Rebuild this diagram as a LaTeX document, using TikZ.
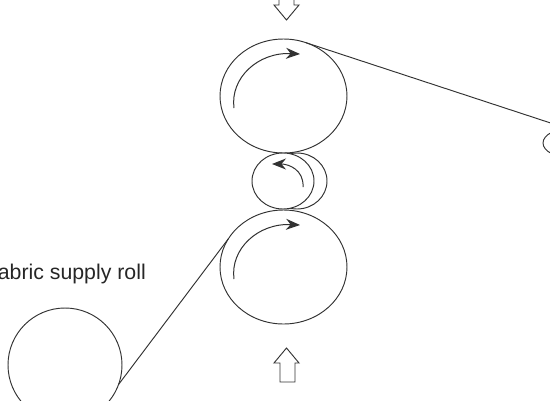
\documentclass[tikz,border=0pt]{standalone}
\usepackage{fontspec}
\setmainfont{Liberation Sans}
\usetikzlibrary{arrows.meta,shapes.geometric}
\definecolor{inkgrey}{RGB}{50,50,50}
\tikzset{
  roll/.style={ellipse,draw=inkgrey,line width=0.95pt,fill=white,inner sep=0pt,outer sep=0pt},
  web/.style={draw=inkgrey,line width=0.95pt},
  spin/.style={draw=inkgrey,line width=1pt,-{Stealth[length=14pt,width=11pt]}},
  press/.style={draw=inkgrey,line width=0.95pt,line join=miter},
  caption/.style={font=\fontsize{21.3}{24}\selectfont,text=black!85,anchor=base east,inner sep=0pt}
}
\begin{document}
\begin{tikzpicture}[x=1pt,y=-1pt]
  \path[use as bounding box,clip] (0,0) rectangle (550,400);

  % Rolls of the nip, lower one sits behind the small roller.
  \node[roll,minimum width=127pt,minimum height=114pt] (toproll) at (283.5,96) {};
  \node[roll,minimum width=127pt,minimum height=114pt] (botroll) at (283.5,267) {};
  \node[roll,minimum width=60pt,minimum height=56pt] (backroll) at (297,181) {};
  \node[roll,minimum width=62pt,minimum height=56pt] (niproll) at (283,181) {};
  \node[roll,minimum width=114pt,minimum height=114pt] (supplyroll) at (65,365) {};
  \node[roll,minimum width=58pt,minimum height=30pt] (takeroll) at (572,143) {};

  \draw[web] (supplyroll.-20) -- (botroll.153);
  \draw[web] (toproll.67) -- (takeroll.110);

  \coordinate (topstart) at (234,108);
  \coordinate (topend) at (300,54);
  \coordinate (botstart) at (234,279);
  \coordinate (botend) at (300,225);
  \coordinate (nipstart) at (303,187);
  \coordinate (nipend) at (272,164);
  \draw[spin] (topstart) .. controls (230,78) and (258,52) .. (topend);
  \draw[spin] (botstart) .. controls (230,249) and (258,223) .. (botend);
  \draw[spin] (nipstart) .. controls (304,170) and (289,164) .. (nipend);

  % Pressure arrows
  \draw[press] (279,-5) -- (279,5) -- (274,5) -- (286.5,20) -- (299,5) -- (294,5) -- (294,-5);
  \draw[press] (280,382) -- (280,363) -- (274,363) -- (286.5,348) -- (299,363) -- (295,363) -- (295,382) -- cycle;

  \node[caption] (supplylabel) at (146,279.5) {abric supply roll};
\end{tikzpicture}
\end{document}
